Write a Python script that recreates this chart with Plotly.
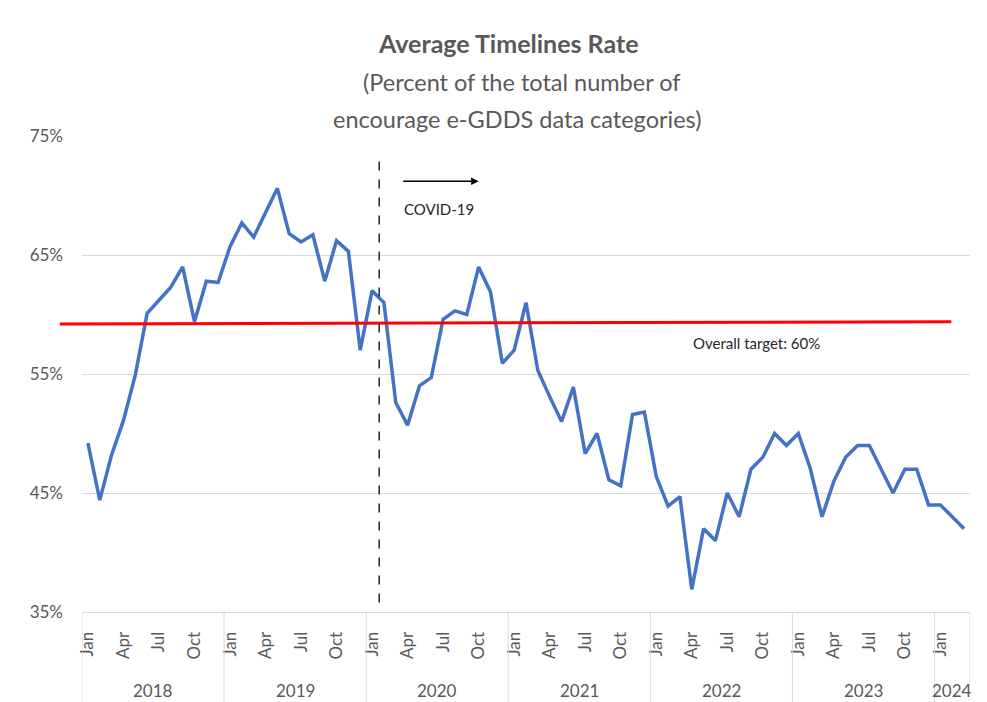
import plotly.graph_objects as go

years = ['2018', '2019', '2020', '2021', '2022', '2023', '2024']
month_names = ['Jan', 'Feb', 'Mar', 'Apr', 'May', 'Jun', 'Jul', 'Aug', 'Sep', 'Oct', 'Nov', 'Dec']
months_in_year = [12, 12, 12, 12, 12, 12, 3]

rate = [
    # 2018
    49.2, 44.4, 48.2, 51.1, 54.9, 60.1, 61.2, 62.3, 64.0, 59.4, 62.8, 62.7,
    # 2019
    65.7, 67.7, 66.5, 68.5, 70.6, 66.8, 66.1, 66.7, 62.8, 66.2, 65.3, 57.0,
    # 2020
    62.0, 61.0, 52.6, 50.7, 54.0, 54.7, 59.6, 60.3, 60.0, 64.0, 61.9, 55.9,
    # 2021
    57.0, 61.0, 55.3, 53.1, 51.0, 53.9, 48.3, 50.0, 46.1, 45.6, 51.6, 51.8,
    # 2022
    46.4, 43.9, 44.7, 36.9, 42.0, 41.0, 45.0, 43.0, 47.0, 48.0, 50.0, 49.0,
    # 2023
    50.0, 47.1, 43.0, 46.0, 48.0, 49.0, 49.0, 47.0, 45.0, 47.0, 47.0, 44.0,
    # 2024
    44.0, 43.0, 42.0,
]

y_ticks = [35, 45, 55, 65, 75]
y_tick_labels = ['35%', '45%', '55%', '65%', '75%']

target_label = 'Overall target: 60%'
target_start = 59.2   # red line as drawn (slightly tilted in the source)
target_end = 59.4

# month index positions
idx = list(range(len(rate)))
tick_pos = [i for i in idx if i % 12 in (0, 3, 6, 9)]
tick_txt = [month_names[i % 12] for i in tick_pos]

grey = '#595959'
font = 'Lato'

fig = go.Figure()
fig.add_trace(go.Scatter(x=idx, y=rate, mode='lines',
                         line=dict(color='#4472C4', width=3.5),
                         hoverinfo='y', showlegend=False))

shapes = []
# year separators below the axis
start = 0
bounds = [-0.5]
for n in months_in_year:
    start += n
    bounds.append(start - 0.5)
for b in bounds:
    shapes.append(dict(type='line', xref='x', yref='paper', x0=b, x1=b, y0=0, y1=-0.19,
                       line=dict(color='#d9d9d9', width=1)))
# target line
shapes.append(dict(type='line', xref='paper', yref='y', x0=-0.025, x1=0.979,
                   y0=target_start, y1=target_end, line=dict(color='#ff0000', width=3)))
# covid start marker
shapes.append(dict(type='line', xref='x', yref='y', x0=24.6, x1=24.6, y0=35.8, y1=73.3,
                   line=dict(color='#262626', width=1.5, dash='dash')))

annotations = []
start = 0
for y, n in zip(years, months_in_year):
    annotations.append(dict(x=start + (n - 1) / 2, y=-0.164, xref='x', yref='paper',
                            yanchor='middle', text=y, showarrow=False,
                            font=dict(size=17, color=grey, family=font)))
    start += n

annotations += [
    dict(x=33.0, y=71.2, xref='x', yref='y', ax=26.5, ay=71.2, axref='x', ayref='y',
         text='', showarrow=True, arrowhead=2, arrowsize=1, arrowwidth=1.5,
         arrowcolor='black', standoff=0, startstandoff=0),
    dict(x=26.5, y=68.9, xref='x', yref='y', text='COVID-19', showarrow=False,
         xanchor='left', yanchor='middle', font=dict(size=15, color='#262626', family=font)),
    dict(x=50.9, y=57.6, xref='x', yref='y', text=target_label, showarrow=False,
         xanchor='left', yanchor='middle', font=dict(size=15, color='#262626', family=font)),
]
# title lines placed by pixel row
title_lines = [('<b>Average Timelines Rate</b>', 43, 25, 0.48),
               ('(Percent of the total number of', 82, 23.5, 0.495),
               ('encourage e-GDDS data categories)', 119, 23.5, 0.49)]
for txt, py, size, px in title_lines:
    annotations.append(dict(x=px, y=(612 - py) / 476, xref='paper', yref='paper',
                            yanchor='middle', text=txt, showarrow=False,
                            font=dict(size=size, color=grey, family=font)))

# the page body adds an 8px margin, so the figure is 8px smaller on each side
fig.update_layout(
    width=979, height=694,
    margin=dict(l=74, r=17, t=128, b=90),
    paper_bgcolor='white', plot_bgcolor='white',
    font=dict(family=font, color=grey),
    shapes=shapes, annotations=annotations,
    xaxis=dict(range=[-0.5, len(rate) - 0.5], tickmode='array', tickvals=tick_pos,
               ticktext=tick_txt, tickangle=-90, showgrid=False, zeroline=False,
               showline=True, linecolor='#d9d9d9', linewidth=1, ticks='',
               automargin=False,
               tickfont=dict(size=17, color=grey, family=font), ticklabelstandoff=12),
    yaxis=dict(range=[35, 75], tickmode='array', tickvals=y_ticks, ticktext=y_tick_labels,
               showgrid=True, gridcolor='#d9d9d9', gridwidth=1, zeroline=False,
               showline=False, ticks='', ticklabelstandoff=18, automargin=False,
               tickfont=dict(size=17, color=grey, family=font)),
)

fig.write_html('out.html')
